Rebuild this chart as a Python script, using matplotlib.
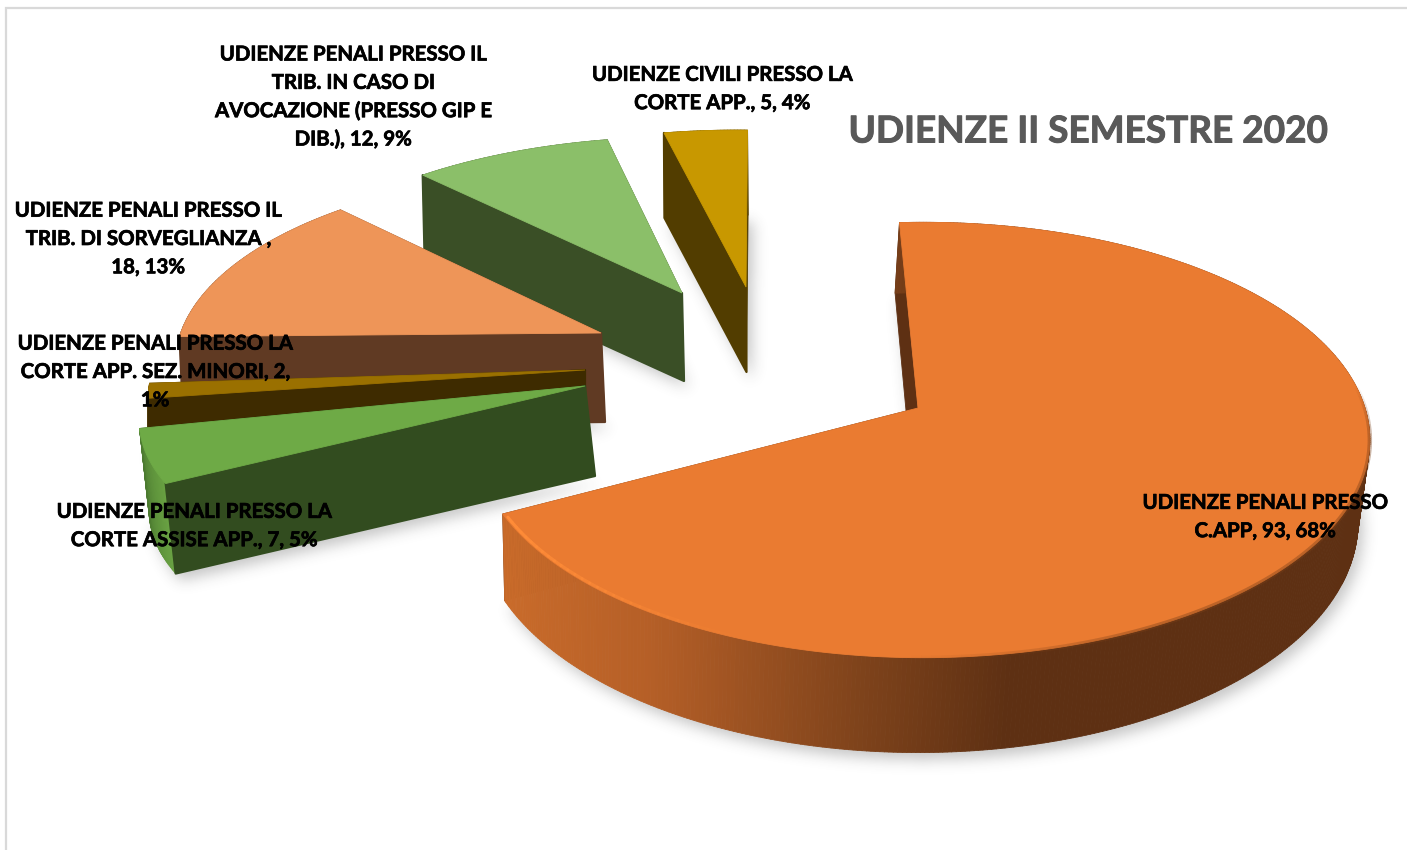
import numpy as np
import matplotlib
matplotlib.use("Agg")
import matplotlib.pyplot as plt
import matplotlib.patheffects as pe
from matplotlib.path import Path
from matplotlib.patches import Polygon
from matplotlib.collections import PolyCollection
from matplotlib.colors import to_rgb

title = "UDIENZE II SEMESTRE 2020"
values = [93, 7, 2, 18, 12, 5]
names = [
    "UDIENZE PENALI PRESSO\nC.APP",
    "UDIENZE PENALI PRESSO LA\nCORTE ASSISE APP.",
    "UDIENZE PENALI PRESSO LA\nCORTE APP. SEZ. MINORI",
    "UDIENZE PENALI PRESSO IL\nTRIB. DI SORVEGLIANZA ",
    "UDIENZE PENALI PRESSO IL\nTRIB. IN CASO DI\nAVOCAZIONE (PRESSO GIP E\nDIB.)",
    "UDIENZE CIVILI PRESSO LA\nCORTE APP.",
]
# how the value part wraps in each label
value_seps = [", ", ", ", ", ", ",\n", ", ", ", "]
top_colors = ["#EA7B31", "#6EAA46", "#9A7000", "#EE9558", "#8BBF69", "#C89800"]
dark_colors = ["#5E3013", "#324C1F", "#3E2B00", "#603A23", "#3A4F26", "#523D00"]
wall_colors = ["#5E3013", "#5F9338", "#7A5800", "#603A23", "#3A4F26", "#523D00"]

# per-slice placement of the exploded 3D pie
centers = [(918, 408), (585, 386), (585, 370), (601, 333), (682, 293), (746, 287)]
radii_x = [442, 441, 432, 420, 418, 420]
radii_y = [213, 180, 160, 190, 179, 180]
arc_dx = [5, 0, 0, -1, -1, -8]
arc_dy = [0, 8, 2, 2, 0, 0]
rotations = [1.5, 0, 0, -3.5, -3.5, -3.5]
sweep_trim = [1.5, -1.5, 0, 0, 0, 0]
heights = [87, 90, 60, 89, 88, 85]
shifts = [10, 10, 0, 4, 2, 0.5]
tapers = [0.016, 0, 0, 0, 0, 0]
label_pos = [(1265, 517), (194, 526), (155, 372), (148, 239), (353, 97), (722, 89)]
START_ANGLE = 92.0
PERSP = 0.147

W, H = 1407, 850
fig = plt.figure(figsize=(W / 100, H / 100), dpi=100)
ax = fig.add_axes([0, 0, 1, 1])
ax.set_xlim(0, W)
ax.set_ylim(H, 0)
ax.axis("off")

total = sum(values)
sweeps = np.array(values) / total * 360.0
starts = START_ANGLE - np.concatenate(([0], np.cumsum(sweeps)[:-1]))


def project(i, ang, r=1.0):
    a = np.radians(ang)
    x, y = r * np.cos(a), r * np.sin(a)
    d = 1 + PERSP * y
    cx, cy = centers[i]
    ox, oy = (arc_dx[i], arc_dy[i]) if r > 0 else (0, 0)
    return np.column_stack([np.atleast_1d(cx + ox + radii_x[i] * x / d),
                            np.atleast_1d(cy + oy - radii_y[i] * y / d)]), np.atleast_1d(d)


def lower(i, pts, d):
    out = pts.copy()
    out[:, 0] = pts[:, 0] + shifts[i] - tapers[i] * pts[:, 0]
    out[:, 1] = pts[:, 1] + heights[i] * 0.93 / d if i == 0 else pts[:, 1] + heights[i]
    return out


def end_angle(i):
    return starts[i] + rotations[i] - sweeps[i] - sweep_trim[i]


def slice_geometry(i):
    a0 = starts[i] + rotations[i]
    a1 = end_angle(i)
    angs = np.linspace(a0, a1, max(12, int(sweeps[i] * 2)))
    arc, d = project(i, angs)
    vert, dv = project(i, np.array([0.0]), 0.0)
    return angs, arc, d, vert, dv


# soft shadows: blurred bottom faces
yy, xx = np.mgrid[0:H:1, 0:W:1]
grid = np.column_stack([xx.ravel() + 0.5, yy.ravel() + 0.5])
mask = np.zeros((H, W))
for i in range(len(values)):
    angs, arc, d, vert, dv = slice_geometry(i)
    low = lower(i, np.vstack([vert, arc]), np.concatenate([dv, d]))
    low = low + np.array([5, 7])
    mask = np.maximum(mask, Path(low).contains_points(grid).reshape(H, W).astype(float))
sig = 7.0
fy = np.fft.fftfreq(H)[:, None]
fx = np.fft.rfftfreq(W)[None, :]
blur = np.fft.irfft2(np.fft.rfft2(mask) * np.exp(-2 * (np.pi * sig) ** 2 * (fx ** 2 + fy ** 2)), s=mask.shape)
rgba = np.zeros((H, W, 4))
rgba[..., :3] = 0.25
rgba[..., 3] = np.clip(blur, 0, 1) * 0.3
ax.imshow(rgba, extent=(0, W, H, 0), zorder=1, aspect="auto", interpolation="bilinear")
ax.set_xlim(0, W)
ax.set_ylim(H, 0)

# frame
ax.plot([6, 6, W], [H, 8, 8], color="#D9D9D9", lw=1.6, zorder=0.5, solid_joinstyle="miter")

wall_stops_x = [505, 650, 860, 1010, 1400]
wall_stops_c = [to_rgb(c) for c in ["#C96B2A", "#B55F27", "#7F431B", "#5E3013", "#5E3013"]]
stops = np.array(wall_stops_c)

z = 2
for i in [5, 4, 3, 2, 1, 0]:
    angs, arc, d, vert, dv = slice_geometry(i)
    vlow = lower(i, vert, dv)
    alow = lower(i, arc, d)
    dark = dark_colors[i]
    # far radial face
    ax.add_patch(Polygon([vert[0], arc[-1], alow[-1], vlow[0]], closed=True, fc=dark, ec=dark, lw=0.6, zorder=z))
    # near radial face of the exploded slices / start edge of the big one
    if i == 0:
        ax.add_patch(Polygon([vert[0], arc[0], alow[0], vlow[0]], closed=True, fc=dark, ec=dark, lw=0.6, zorder=z))
    # outer wall
    quads = [[arc[j], arc[j + 1], alow[j + 1], alow[j]] for j in range(len(arc) - 1)]
    if i == 0:
        mids = (arc[:-1, 0] + arc[1:, 0]) / 2
        cols = np.column_stack([np.interp(mids, wall_stops_x, stops[:, c]) for c in range(3)])
    elif i == 1:
        t = np.linspace(0, 1, len(quads))[:, None]
        cols = np.array(to_rgb("#6AA343")) * (1 - t) + np.array(to_rgb("#4C7A30")) * t
    else:
        cols = [wall_colors[i]] * len(quads)
    ax.add_collection(PolyCollection(quads, facecolors=cols, edgecolors=cols, linewidths=0.6, zorder=z + 0.1))
    # near radial face
    if i != 0:
        ax.add_patch(Polygon([vert[0], arc[0], alow[0], vlow[0]], closed=True, fc=dark, ec=dark, lw=1.6,
                             joinstyle="round", zorder=z + 0.2))
    # top face
    top = np.vstack([vert, arc])
    ax.add_patch(Polygon(top, closed=True, fc=top_colors[i], ec=top_colors[i], lw=0.6, zorder=z + 0.3))
    if i == 0:
        # bevel highlight at the left, soft dark edge further round
        a0 = end_angle(0)
        hi, _ = project(0, np.linspace(a0 + 1, a0 + 40, 30), 0.995)
        for j in range(len(hi) - 1):
            ax.plot(hi[j:j + 2, 0], hi[j:j + 2, 1], color="#FF8C38", lw=2.2,
                    alpha=max(0, 1 - j / 30), solid_capstyle="round", zorder=z + 0.4)
        so, _ = project(0, np.linspace(a0 + 60, a0 + 158, 90), 1.0)
        n = len(so) - 1
        for j in range(n):
            fade = min(1.0, j / 25, (n - j) / 12)
            ax.plot(so[j:j + 2, 0], so[j:j + 2, 1], color="#7A3F18", lw=3.2, alpha=0.4 * fade,
                    solid_capstyle="butt", zorder=z + 0.4)
    z += 1

# labels
plt.rcParams["font.family"] = ["Lato", "DejaVu Sans"]
for name, v, sep, (lx, ly) in zip(names, values, value_seps, label_pos):
    pct = round(100 * v / total)
    label = f"{name}{sep}{v}, {pct}%"
    if v == 2:
        label = f"{name}, {v},\n{pct}%"
    ax.text(lx, ly, label, ha="center", va="center", fontsize=14.7, fontweight="bold",
            color="black", linespacing=1.52, zorder=20,
            path_effects=[pe.withStroke(linewidth=0.5, foreground="black")])

ax.text(1088, 132, title, ha="center", va="center", fontsize=26.6, fontweight="bold", color="#595959", zorder=20,
        path_effects=[pe.withStroke(linewidth=0.7, foreground="#595959")])

fig.savefig("out.png", dpi=100)
